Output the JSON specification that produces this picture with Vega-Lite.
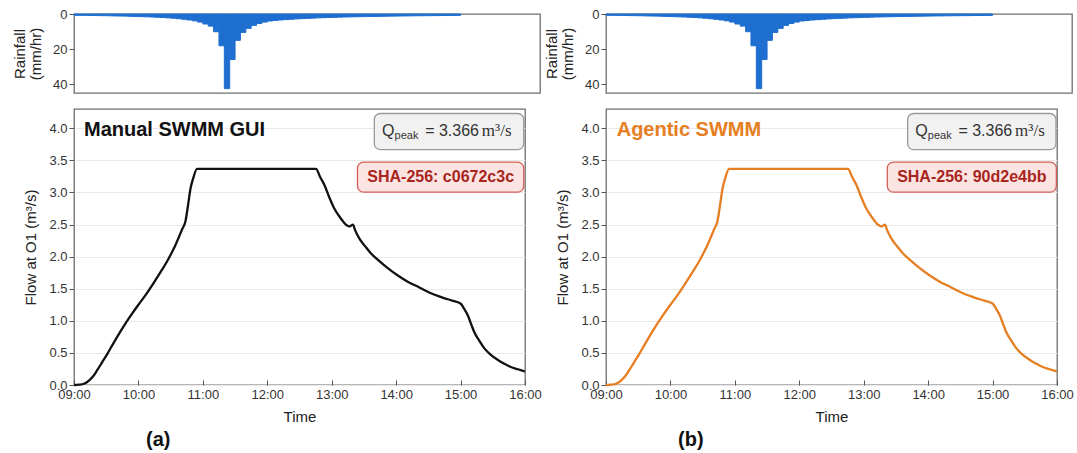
{
  "$schema": "https://vega.github.io/schema/vega-lite/v6.json",
  "padding": {"left": 11, "top": 7, "right": 0, "bottom": 0},
  "config": {
    "font": "Liberation Sans",
    "view": {"stroke": "#6e6e6e", "strokeWidth": 1.3},
    "axis": {"domain": false, "labelFont": "Liberation Sans", "titleFont": "Liberation Sans", "labelFontSize": 13, "labelColor": "#333", "titleColor": "#222", "titleFontWeight": "normal", "titleFontSize": 15, "tickColor": "#555", "gridColor": "#e9e9e9"}
  },
  "datasets": {
    "rain": [
      {"h": 9.0, "h2": 9.0833, "rain": 0.75}, {"h": 9.0833, "h2": 9.1667, "rain": 0.78}, {"h": 9.1667, "h2": 9.25, "rain": 0.8}, {"h": 9.25, "h2": 9.3333, "rain": 0.85},
      {"h": 9.3333, "h2": 9.4167, "rain": 0.9}, {"h": 9.4167, "h2": 9.5, "rain": 0.95}, {"h": 9.5, "h2": 9.5833, "rain": 1.0}, {"h": 9.5833, "h2": 9.6667, "rain": 1.1},
      {"h": 9.6667, "h2": 9.75, "rain": 1.15}, {"h": 9.75, "h2": 9.8333, "rain": 1.2}, {"h": 9.8333, "h2": 9.9167, "rain": 1.3}, {"h": 9.9167, "h2": 10.0, "rain": 1.4},
      {"h": 10.0, "h2": 10.0833, "rain": 1.5}, {"h": 10.0833, "h2": 10.1667, "rain": 1.6}, {"h": 10.1667, "h2": 10.25, "rain": 1.7}, {"h": 10.25, "h2": 10.3333, "rain": 1.85},
      {"h": 10.3333, "h2": 10.4167, "rain": 2.0}, {"h": 10.4167, "h2": 10.5, "rain": 2.2}, {"h": 10.5, "h2": 10.5833, "rain": 2.4}, {"h": 10.5833, "h2": 10.6667, "rain": 2.7},
      {"h": 10.6667, "h2": 10.75, "rain": 3.0}, {"h": 10.75, "h2": 10.8333, "rain": 3.4}, {"h": 10.8333, "h2": 10.9167, "rain": 3.9}, {"h": 10.9167, "h2": 11.0, "rain": 4.6},
      {"h": 11.0, "h2": 11.0833, "rain": 5.7}, {"h": 11.0833, "h2": 11.1667, "rain": 6.9}, {"h": 11.1667, "h2": 11.25, "rain": 10.1}, {"h": 11.25, "h2": 11.3333, "rain": 18.1},
      {"h": 11.3333, "h2": 11.4167, "rain": 42.5}, {"h": 11.4167, "h2": 11.5, "rain": 25.9}, {"h": 11.5, "h2": 11.5833, "rain": 15.0}, {"h": 11.5833, "h2": 11.6667, "rain": 10.5},
      {"h": 11.6667, "h2": 11.75, "rain": 8.2}, {"h": 11.75, "h2": 11.8333, "rain": 6.5}, {"h": 11.8333, "h2": 11.9167, "rain": 5.4}, {"h": 11.9167, "h2": 12.0, "rain": 4.6},
      {"h": 12.0, "h2": 12.0833, "rain": 4.0}, {"h": 12.0833, "h2": 12.1667, "rain": 3.7}, {"h": 12.1667, "h2": 12.25, "rain": 3.4}, {"h": 12.25, "h2": 12.3333, "rain": 3.2},
      {"h": 12.3333, "h2": 12.4167, "rain": 3.0}, {"h": 12.4167, "h2": 12.5, "rain": 2.8}, {"h": 12.5, "h2": 12.5833, "rain": 2.65}, {"h": 12.5833, "h2": 12.6667, "rain": 2.5},
      {"h": 12.6667, "h2": 12.75, "rain": 2.35}, {"h": 12.75, "h2": 12.8333, "rain": 2.2}, {"h": 12.8333, "h2": 12.9167, "rain": 2.1}, {"h": 12.9167, "h2": 13.0, "rain": 2.0},
      {"h": 13.0, "h2": 13.0833, "rain": 1.9}, {"h": 13.0833, "h2": 13.1667, "rain": 1.8}, {"h": 13.1667, "h2": 13.25, "rain": 1.72}, {"h": 13.25, "h2": 13.3333, "rain": 1.65},
      {"h": 13.3333, "h2": 13.4167, "rain": 1.58}, {"h": 13.4167, "h2": 13.5, "rain": 1.52}, {"h": 13.5, "h2": 13.5833, "rain": 1.46}, {"h": 13.5833, "h2": 13.6667, "rain": 1.4},
      {"h": 13.6667, "h2": 13.75, "rain": 1.35}, {"h": 13.75, "h2": 13.8333, "rain": 1.3}, {"h": 13.8333, "h2": 13.9167, "rain": 1.25}, {"h": 13.9167, "h2": 14.0, "rain": 1.2},
      {"h": 14.0, "h2": 14.0833, "rain": 1.16}, {"h": 14.0833, "h2": 14.1667, "rain": 1.12}, {"h": 14.1667, "h2": 14.25, "rain": 1.08}, {"h": 14.25, "h2": 14.3333, "rain": 1.04},
      {"h": 14.3333, "h2": 14.4167, "rain": 1.0}, {"h": 14.4167, "h2": 14.5, "rain": 0.97}, {"h": 14.5, "h2": 14.5833, "rain": 0.94}, {"h": 14.5833, "h2": 14.6667, "rain": 0.91},
      {"h": 14.6667, "h2": 14.75, "rain": 0.88}, {"h": 14.75, "h2": 14.8333, "rain": 0.85}, {"h": 14.8333, "h2": 14.9167, "rain": 0.82}, {"h": 14.9167, "h2": 15.0, "rain": 0.8}
    ],
    "flow": [
      {"h": 9.0, "q": 0.0}, {"h": 9.08, "q": 0.005}, {"h": 9.155, "q": 0.02}, {"h": 9.233, "q": 0.07}, {"h": 9.3, "q": 0.14},
      {"h": 9.36, "q": 0.23}, {"h": 9.44, "q": 0.36}, {"h": 9.52, "q": 0.49}, {"h": 9.6, "q": 0.63}, {"h": 9.67, "q": 0.75},
      {"h": 9.78, "q": 0.93}, {"h": 9.88, "q": 1.08}, {"h": 10.0, "q": 1.25}, {"h": 10.11, "q": 1.4}, {"h": 10.23, "q": 1.58},
      {"h": 10.35, "q": 1.77}, {"h": 10.43, "q": 1.9}, {"h": 10.5, "q": 2.03}, {"h": 10.57, "q": 2.17}, {"h": 10.63, "q": 2.31},
      {"h": 10.68, "q": 2.43}, {"h": 10.73, "q": 2.55}, {"h": 10.77, "q": 2.8}, {"h": 10.81, "q": 3.07}, {"h": 10.85, "q": 3.22},
      {"h": 10.91, "q": 3.366}, {"h": 12.756, "q": 3.366}, {"h": 12.82, "q": 3.24}, {"h": 12.885, "q": 3.12}, {"h": 12.96, "q": 2.93},
      {"h": 13.04, "q": 2.75}, {"h": 13.13, "q": 2.61}, {"h": 13.22, "q": 2.5}, {"h": 13.27, "q": 2.47}, {"h": 13.31, "q": 2.49},
      {"h": 13.33, "q": 2.5}, {"h": 13.36, "q": 2.42}, {"h": 13.43, "q": 2.28}, {"h": 13.52, "q": 2.16}, {"h": 13.61, "q": 2.05},
      {"h": 13.74, "q": 1.93}, {"h": 13.87, "q": 1.82}, {"h": 14.02, "q": 1.71}, {"h": 14.18, "q": 1.61}, {"h": 14.36, "q": 1.52},
      {"h": 14.54, "q": 1.43}, {"h": 14.7, "q": 1.37}, {"h": 14.85, "q": 1.32}, {"h": 15.0, "q": 1.27}, {"h": 15.06, "q": 1.18},
      {"h": 15.11, "q": 1.09}, {"h": 15.16, "q": 0.96}, {"h": 15.21, "q": 0.83}, {"h": 15.29, "q": 0.69}, {"h": 15.37, "q": 0.57},
      {"h": 15.47, "q": 0.47}, {"h": 15.58, "q": 0.39}, {"h": 15.68, "q": 0.33}, {"h": 15.78, "q": 0.28}, {"h": 15.89, "q": 0.245},
      {"h": 16.0, "q": 0.21}
    ]
  },
  "spacing": 1,
  "hconcat": [
    {
      "spacing": 14,
      "vconcat": [
        {
          "width": 466, "height": 79,
          "data": {"name": "rain"},
          "mark": {"type": "rect", "color": "#1f6fd1", "stroke": "#1f6fd1", "strokeWidth": 1},
          "encoding": {
            "x": {"field": "h", "type": "quantitative", "scale": {"domain": [9, 16.233], "nice": false, "zero": false}, "axis": null},
            "x2": {"field": "h2"},
            "y": {"field": "rain", "type": "quantitative", "scale": {"domain": [0, 45], "reverse": true, "nice": false}, "axis": {"title": ["Rainfall", "(mm/hr)"], "titleLineHeight": 16, "values": [0, 20, 40], "grid": false, "tickSize": 5, "labelPadding": 2, "titlePadding": 9}},
            "y2": {"datum": 0}
          }
        },
        {
          "width": 451, "height": 276,
          "title": {"text": "(a)", "orient": "bottom", "anchor": "start", "frame": "group", "dx": 72, "fontSize": 20, "fontWeight": "bold", "color": "#111", "offset": 6},
          "resolve": {"axis": {"x": "independent", "y": "independent"}},
          "layer": [
            {"data": {"name": "flow"}, "mark": {"type": "line", "color": "#111111", "strokeWidth": 2.3, "interpolate": "monotone"},
             "encoding": {
               "x": {"field": "h", "type": "quantitative", "scale": {"domain": [9, 16], "nice": false, "zero": false}, "axis": {"title": "Time", "values": [9, 10, 11, 12, 13, 14, 15, 16], "labelExpr": "(datum.value < 10 ? '0' : '') + datum.value + ':00'", "labelFlush": false, "grid": false, "tickSize": -5, "labelPadding": 8, "titlePadding": 8}},
               "y": {"field": "q", "type": "quantitative", "scale": {"domain": [0, 4.3], "nice": false}, "axis": {"title": "Flow at O1 (m³/s)", "values": [0, 0.5, 1, 1.5, 2, 2.5, 3, 3.5, 4], "format": ".1f", "grid": true, "tickSize": 5, "labelPadding": 2, "titlePadding": 10}}
             }},
            {"data": {"values": [{"label": "Qpeak box"}]}, "mark": {"type": "rect", "fill": "#f1f1f1", "stroke": "#9a9a9a", "strokeWidth": 1.3, "cornerRadius": 6},
             "encoding": {"x": {"datum": 13.661, "axis": null}, "x2": {"datum": 15.98}, "y": {"datum": 4.23, "axis": null}, "y2": {"datum": 3.667}}},
            {"data": {"values": [{"label": "Q"}]}, "mark": {"type": "text", "align": "left", "baseline": "alphabetic", "fontSize": 16, "color": "#333"},
             "encoding": {"x": {"datum": 13.78, "axis": null}, "y": {"datum": 3.886, "axis": null}, "text": {"field": "label"}}},
            {"data": {"values": [{"label": "peak"}]}, "mark": {"type": "text", "align": "left", "baseline": "alphabetic", "fontSize": 11, "color": "#333"},
             "encoding": {"x": {"datum": 13.975, "axis": null}, "y": {"datum": 3.835, "axis": null}, "text": {"field": "label"}}},
            {"data": {"values": [{"label": "= 3.366"}]}, "mark": {"type": "text", "align": "left", "baseline": "alphabetic", "fontSize": 16, "color": "#333"},
             "encoding": {"x": {"datum": 14.45, "axis": null}, "y": {"datum": 3.886, "axis": null}, "text": {"field": "label"}}},
            {"data": {"values": [{"label": "m³/s"}]}, "mark": {"type": "text", "align": "left", "baseline": "alphabetic", "fontSize": 17, "font": "Liberation Serif", "color": "#333"},
             "encoding": {"x": {"datum": 15.33, "axis": null}, "y": {"datum": 3.886, "axis": null}, "text": {"field": "label"}}},
            {"data": {"values": [{"label": "SHA box"}]}, "mark": {"type": "rect", "fill": "#fce4e2", "stroke": "#d4605a", "strokeWidth": 1.3, "cornerRadius": 6},
             "encoding": {"x": {"datum": 13.4, "axis": null}, "x2": {"datum": 15.98}, "y": {"datum": 3.473, "axis": null}, "y2": {"datum": 3.005}}},
            {"data": {"values": [{"label": "SHA-256: c0672c3c"}]}, "mark": {"type": "text", "align": "center", "baseline": "middle", "fontSize": 16, "fontWeight": "bold", "color": "#a8261e"},
             "encoding": {"x": {"datum": 14.691, "axis": null}, "y": {"datum": 3.234, "axis": null}, "text": {"field": "label"}}},
            {"data": {"values": [{"label": "Manual SWMM GUI"}]}, "mark": {"type": "text", "align": "left", "baseline": "alphabetic", "fontSize": 20, "fontWeight": "bold", "color": "#111"},
             "encoding": {"x": {"datum": 9.155, "axis": null}, "y": {"datum": 3.886, "axis": null}, "text": {"field": "label"}}}
          ]
        }
      ]
    },
    {
      "spacing": 14,
      "vconcat": [
        {
          "width": 466, "height": 79,
          "data": {"name": "rain"},
          "mark": {"type": "rect", "color": "#1f6fd1", "stroke": "#1f6fd1", "strokeWidth": 1},
          "encoding": {
            "x": {"field": "h", "type": "quantitative", "scale": {"domain": [9, 16.233], "nice": false, "zero": false}, "axis": null},
            "x2": {"field": "h2"},
            "y": {"field": "rain", "type": "quantitative", "scale": {"domain": [0, 45], "reverse": true, "nice": false}, "axis": {"title": ["Rainfall", "(mm/hr)"], "titleLineHeight": 16, "values": [0, 20, 40], "grid": false, "tickSize": 5, "labelPadding": 2, "titlePadding": 9}},
            "y2": {"datum": 0}
          }
        },
        {
          "width": 451, "height": 276,
          "title": {"text": "(b)", "orient": "bottom", "anchor": "start", "frame": "group", "dx": 72, "fontSize": 20, "fontWeight": "bold", "color": "#111", "offset": 6},
          "resolve": {"axis": {"x": "independent", "y": "independent"}},
          "layer": [
            {"data": {"name": "flow"}, "mark": {"type": "line", "color": "#e67e22", "strokeWidth": 2.3, "interpolate": "monotone"},
             "encoding": {
               "x": {"field": "h", "type": "quantitative", "scale": {"domain": [9, 16], "nice": false, "zero": false}, "axis": {"title": "Time", "values": [9, 10, 11, 12, 13, 14, 15, 16], "labelExpr": "(datum.value < 10 ? '0' : '') + datum.value + ':00'", "labelFlush": false, "grid": false, "tickSize": -5, "labelPadding": 8, "titlePadding": 8}},
               "y": {"field": "q", "type": "quantitative", "scale": {"domain": [0, 4.3], "nice": false}, "axis": {"title": "Flow at O1 (m³/s)", "values": [0, 0.5, 1, 1.5, 2, 2.5, 3, 3.5, 4], "format": ".1f", "grid": true, "tickSize": 5, "labelPadding": 2, "titlePadding": 10}}
             }},
            {"data": {"values": [{"label": "Qpeak box"}]}, "mark": {"type": "rect", "fill": "#f1f1f1", "stroke": "#9a9a9a", "strokeWidth": 1.3, "cornerRadius": 6},
             "encoding": {"x": {"datum": 13.682, "axis": null}, "x2": {"datum": 15.984}, "y": {"datum": 4.23, "axis": null}, "y2": {"datum": 3.667}}},
            {"data": {"values": [{"label": "Q"}]}, "mark": {"type": "text", "align": "left", "baseline": "alphabetic", "fontSize": 16, "color": "#333"},
             "encoding": {"x": {"datum": 13.8, "axis": null}, "y": {"datum": 3.886, "axis": null}, "text": {"field": "label"}}},
            {"data": {"values": [{"label": "peak"}]}, "mark": {"type": "text", "align": "left", "baseline": "alphabetic", "fontSize": 11, "color": "#333"},
             "encoding": {"x": {"datum": 13.995, "axis": null}, "y": {"datum": 3.835, "axis": null}, "text": {"field": "label"}}},
            {"data": {"values": [{"label": "= 3.366"}]}, "mark": {"type": "text", "align": "left", "baseline": "alphabetic", "fontSize": 16, "color": "#333"},
             "encoding": {"x": {"datum": 14.47, "axis": null}, "y": {"datum": 3.886, "axis": null}, "text": {"field": "label"}}},
            {"data": {"values": [{"label": "m³/s"}]}, "mark": {"type": "text", "align": "left", "baseline": "alphabetic", "fontSize": 17, "font": "Liberation Serif", "color": "#333"},
             "encoding": {"x": {"datum": 15.35, "axis": null}, "y": {"datum": 3.886, "axis": null}, "text": {"field": "label"}}},
            {"data": {"values": [{"label": "SHA box"}]}, "mark": {"type": "rect", "fill": "#fce4e2", "stroke": "#d4605a", "strokeWidth": 1.3, "cornerRadius": 6},
             "encoding": {"x": {"datum": 13.366, "axis": null}, "x2": {"datum": 15.99}, "y": {"datum": 3.473, "axis": null}, "y2": {"datum": 3.005}}},
            {"data": {"values": [{"label": "SHA-256: 90d2e4bb"}]}, "mark": {"type": "text", "align": "center", "baseline": "middle", "fontSize": 16, "fontWeight": "bold", "color": "#a8261e"},
             "encoding": {"x": {"datum": 14.678, "axis": null}, "y": {"datum": 3.234, "axis": null}, "text": {"field": "label"}}},
            {"data": {"values": [{"label": "Agentic SWMM"}]}, "mark": {"type": "text", "align": "left", "baseline": "alphabetic", "fontSize": 20, "fontWeight": "bold", "color": "#e67e22"},
             "encoding": {"x": {"datum": 9.166, "axis": null}, "y": {"datum": 3.886, "axis": null}, "text": {"field": "label"}}}
          ]
        }
      ]
    }
  ]
}
